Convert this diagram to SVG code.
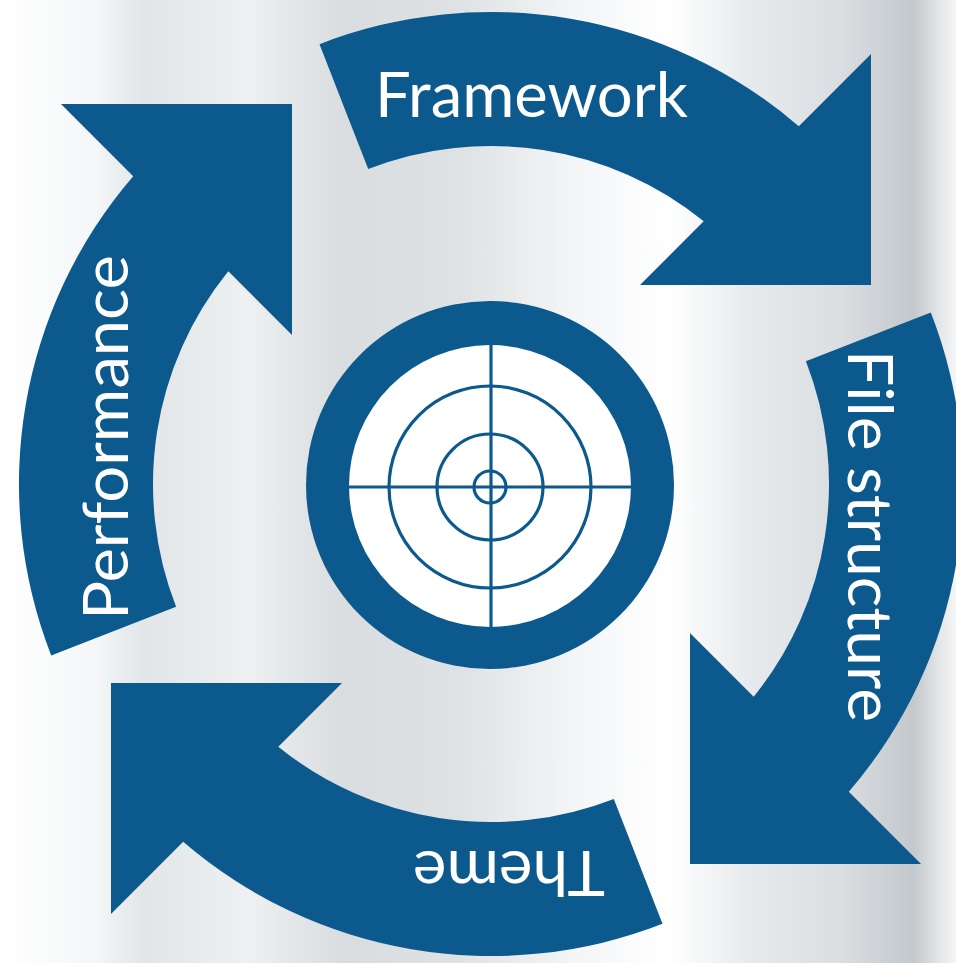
<svg xmlns="http://www.w3.org/2000/svg" xmlns:xlink="http://www.w3.org/1999/xlink" width="956" height="963" viewBox="0 0 956 963">
<defs>
<linearGradient id="bg" x1="0" y1="0" x2="1" y2="0">
<stop offset="0" stop-color="#ffffff"/>
<stop offset="0.10" stop-color="#f4f6f7"/>
<stop offset="0.15" stop-color="#e2e6e8"/>
<stop offset="0.26" stop-color="#eef0f1"/>
<stop offset="0.36" stop-color="#d9dde0"/>
<stop offset="0.48" stop-color="#dfe2e4"/>
<stop offset="0.60" stop-color="#f3f5f6"/>
<stop offset="0.70" stop-color="#ffffff"/>
<stop offset="0.78" stop-color="#e8ebed"/>
<stop offset="0.88" stop-color="#dadee1"/>
<stop offset="0.955" stop-color="#c3c8cc"/>
<stop offset="0.985" stop-color="#e6e8ea"/>
<stop offset="1" stop-color="#f4f5f6"/>
</linearGradient>
<path id="arrow" d="M -171.5,-439.8 A 472 472 0 0 1 307.8,-357.8 L 380,-430 L 380,-199 L 149,-199 L 212.7,-262.7 A 338 338 0 0 0 -122.8,-314.9 Z"/>
<style>
.arr{fill:#0c598e}
.lbl{fill:#ffffff;font-family:Lato,"Open Sans","Liberation Sans",sans-serif;font-weight:400;font-size:62px}
.ring{fill:none;stroke:#0c598e;stroke-width:3.2}
</style>
</defs>
<rect x="0" y="0" width="956" height="963" fill="url(#bg)"/>
<g id="connectors">
<g id="arrow-framework"><use xlink:href="#arrow" class="arr" transform="translate(491,484)"/></g>
<g id="arrow-filestructure"><use xlink:href="#arrow" class="arr" transform="translate(491,484) rotate(90)"/></g>
<g id="arrow-theme"><use xlink:href="#arrow" class="arr" transform="translate(491,484) rotate(180)"/></g>
<g id="arrow-performance"><use xlink:href="#arrow" class="arr" transform="translate(491,484) rotate(270)"/></g>
</g>
<g id="framework"><text class="lbl" x="375" y="117" textLength="313" lengthAdjust="spacingAndGlyphs">Framework</text></g>
<g id="filestructure"><text class="lbl" transform="translate(848,350) rotate(90)" x="0" y="0" textLength="372" lengthAdjust="spacingAndGlyphs">File structure</text></g>
<g id="theme"><text class="lbl" transform="translate(605,851) rotate(180)" x="0" y="0" textLength="192" lengthAdjust="spacingAndGlyphs">Theme</text></g>
<g id="performance"><text class="lbl" transform="translate(128,620) rotate(-90)" x="0" y="0" textLength="365" lengthAdjust="spacingAndGlyphs">Performance</text></g>
<g id="target">
<circle cx="490" cy="485" r="184" fill="#0c598e"/>
<circle cx="490" cy="486" r="141" fill="#ffffff"/>
<circle class="ring" cx="490" cy="487" r="101"/>
<circle class="ring" cx="490" cy="487" r="53"/>
<circle class="ring" cx="490" cy="487" r="16"/>
<line class="ring" x1="349" y1="487" x2="631" y2="487"/>
<line class="ring" x1="491" y1="345" x2="491" y2="627"/>
</g>
</svg>
